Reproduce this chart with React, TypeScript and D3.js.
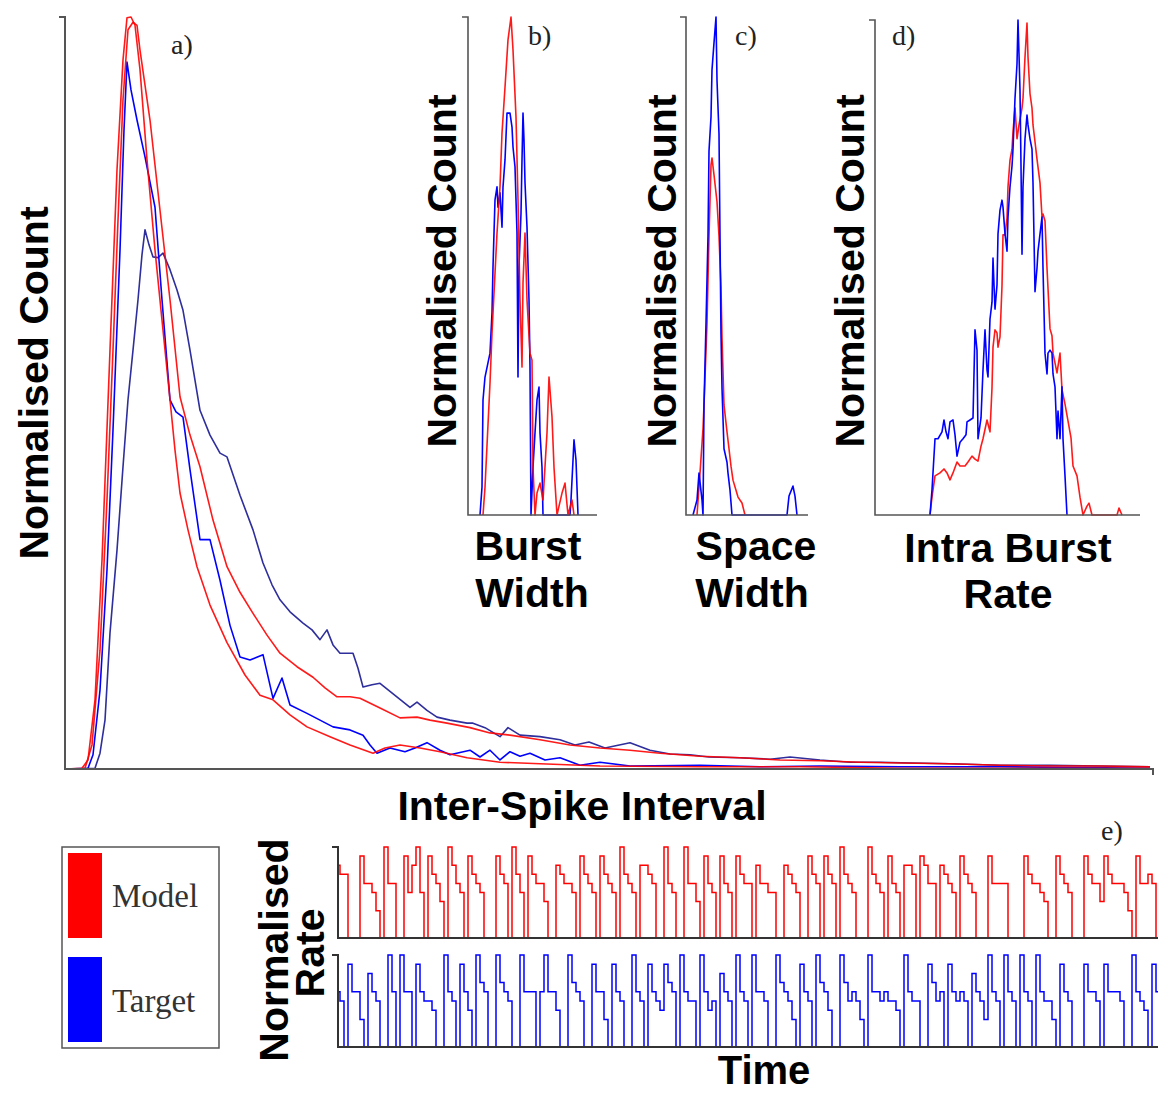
import React from "react";
import * as d3 from "d3";

const W = 1164;
const H = 1093;

// ---------- Panel a: Inter-Spike Interval histograms  [ISI bin, normalised count %] ----------
const isiModel1: [number, number][] = [
  [0, 0], [17, 0.1], [23, 1.2], [30, 9.2], [37, 27.8], [45, 55.7], [52, 79.7], [58, 94.3], [62, 99.9], [66, 100],
  [70, 98.9], [75, 93.0], [82, 81.0], [90, 69.0], [97, 59.7], [105, 49.1], [110, 42.4], [115, 36.7], [123, 31.8],
  [132, 26.9], [145, 21.8], [162, 16.8], [180, 12.5], [195, 9.8], [208, 9.2], [225, 7.2], [242, 5.6], [265, 4.3],
  [285, 3.2], [308, 2.1], [320, 2.8], [335, 3.2], [355, 2.8], [375, 2.3], [402, 1.5], [435, 0.9], [475, 0.7],
  [535, 0.4], [635, 0.3], [735, 0.3], [835, 0.1], [935, 0.1], [1085, 0.1],
];
const isiTarget1: [number, number][] = [
  [0, 0], [23, 0.1], [28, 1.9], [35, 10.5], [42, 26.5], [48, 45.1], [55, 69.0], [59, 85.0], [62, 94.0], [66, 90.3],
  [72, 86.3], [80, 81.4], [90, 74.7], [97, 62.4], [105, 49.1], [111, 47.5], [118, 46.8], [125, 39.8], [135, 30.5],
  [145, 30.5], [155, 25.1], [165, 19.1], [175, 14.9], [185, 14.5], [198, 15.2], [208, 9.4], [217, 12.1], [225, 8.5],
  [242, 7.4], [255, 6.5], [268, 5.6], [285, 5.2], [298, 4.5], [305, 3.2], [312, 2.1], [325, 2.8], [340, 2.3],
  [350, 2.8], [362, 3.5], [375, 2.5], [385, 1.9], [405, 2.5], [415, 1.6], [425, 2.5], [435, 1.2], [445, 2.3],
  [455, 1.7], [465, 2.1], [480, 1.2], [495, 1.5], [515, 0.5], [535, 0.9], [565, 0.4], [635, 0.5], [695, 0.3],
  [755, 0.4], [835, 0.3], [935, 0.3], [1085, 0.1],
];
const isiModel2: [number, number][] = [
  [20, 0.1], [27, 3.2], [35, 15.8], [42, 35.8], [48, 55.7], [53, 73.0], [58, 89.0], [63, 98.3], [68, 99.3],
  [72, 98.9], [75, 95.6], [85, 86.3], [95, 74.3], [105, 62.4], [115, 49.5], [125, 44.4], [135, 40.2], [148, 33.1],
  [162, 26.9], [175, 23.5], [188, 20.7], [202, 17.8], [215, 15.4], [232, 13.6], [248, 12.2], [260, 10.8],
  [272, 9.6], [285, 9.6], [295, 9.4], [315, 8.1], [335, 6.8], [352, 6.9], [365, 6.5], [382, 6.1], [405, 5.5],
  [425, 4.8], [445, 4.5], [475, 3.9], [505, 3.2], [535, 2.8], [565, 2.5], [595, 2.1], [635, 1.7], [675, 1.5],
  [715, 1.2], [755, 1.1], [795, 0.9], [835, 0.8], [885, 0.7], [935, 0.5], [985, 0.4], [1035, 0.4], [1085, 0.3],
];
const isiTarget2: [number, number][] = [
  [0, 0], [30, 0.1], [35, 2.1], [40, 6.5], [45, 18.1], [52, 29.1], [58, 40.2], [63, 49.1], [68, 55.7], [73, 62.4],
  [77, 68.4], [80, 71.7], [84, 69.7], [88, 68.1], [93, 68.0], [98, 68.6], [105, 66.4], [112, 63.7], [118, 61.0],
  [125, 55.7], [135, 47.7], [145, 44.4], [155, 42.0], [162, 41.5], [175, 36.4], [188, 31.8], [198, 27.4],
  [207, 24.5], [215, 22.5], [225, 20.9], [238, 19.4], [247, 18.5], [255, 17.2], [262, 18.5], [268, 16.5],
  [275, 15.4], [288, 15.4], [293, 13.4], [298, 10.9], [307, 11.2], [315, 11.4], [330, 9.8], [345, 8.2],
  [352, 8.9], [362, 7.8], [372, 6.9], [385, 6.5], [402, 6.1], [408, 6.1], [420, 5.5], [435, 4.3], [443, 5.5],
  [455, 4.5], [475, 4.3], [495, 3.9], [510, 3.2], [524, 3.6], [540, 2.8], [565, 3.5], [585, 2.5], [605, 2.0],
  [625, 1.9], [644, 1.6], [675, 1.5], [705, 1.3], [725, 1.6], [755, 1.2], [785, 0.9], [815, 0.9], [847, 0.8],
  [885, 0.7], [935, 0.5], [985, 0.5], [1035, 0.4], [1085, 0.3],
];

// ---------- Panel b: Burst Width ----------
const burstModel: [number, number][] = [
  [15, 0], [17, 5.6], [22, 26.5], [24, 36.5], [29, 56.6], [32, 65.9], [34, 76.7], [37, 85.9], [40, 95.4], [43, 100],
  [45, 93.4], [48, 79.9], [50, 63.3], [52, 43.2], [54, 29.7], [55, 46.6], [57, 56.6], [59, 43.2], [62, 32.5],
  [64, 31.1], [65, 9.6], [67, 0], [69, 4.4], [72, 6.4], [75, 3.0], [79, 16.5], [81, 27.7], [84, 19.7], [86, 9.6],
  [89, 0], [94, 4.4], [97, 6.4], [100, 0], [104, 3.0], [106, 0],
];
const burstTarget: [number, number][] = [
  [12, 0], [14, 5.6], [15, 23.1], [17, 27.7], [22, 32.5], [24, 40.6], [25, 49.8], [27, 63.3], [29, 65.9],
  [30, 61.8], [32, 64.7], [34, 57.8], [35, 65.9], [37, 71.3], [39, 80.7], [42, 80.7], [44, 77.9], [45, 73.9],
  [47, 69.9], [49, 56.6], [50, 27.7], [51, 49.8], [53, 60.6], [54, 71.3], [55, 80.7], [56, 75.3], [57, 66.7],
  [59, 57.8], [61, 43.2], [62, 29.7], [63, 0], [65, 9.6], [67, 16.5], [69, 23.1], [71, 25.7], [72, 16.5],
  [74, 9.6], [75, 0], [102, 0], [103, 3.0], [105, 11.0], [106, 15.1], [108, 11.0], [110, 0],
];

// ---------- Panel c: Space Width ----------
const spaceModel: [number, number][] = [
  [11, 0], [14, 8.4], [17, 17.3], [18, 22.1], [21, 38.4], [23, 56.0], [25, 70.3], [26, 71.7], [28, 68.3],
  [31, 62.9], [33, 56.0], [35, 45.8], [36, 35.7], [38, 22.1], [41, 16.7], [43, 13.3], [45, 9.8], [47, 7.0],
  [52, 3.6], [56, 2.4], [59, 0],
];
const spaceTarget: [number, number][] = [
  [7, 0], [11, 3.0], [13, 8.4], [16, 3.0], [17, 0], [18, 22.1], [20, 38.4], [22, 56.0], [23, 73.1], [25, 79.9],
  [26, 89.4], [28, 94.8], [30, 100], [31, 87.3], [33, 76.5], [34, 56.0], [35, 36.3], [36, 25.5], [38, 13.3],
  [41, 10.6], [42, 8.4], [44, 5.0], [46, 0], [101, 0], [103, 3.8], [107, 5.8], [109, 3.8], [111, 0],
];

// ---------- Panel d: Intra Burst Rate ----------
const intraModel: [number, number][] = [
  [55, 0], [57, 3.6], [60, 7.9], [65, 8.5], [69, 9.3], [72, 8.5], [75, 7.1], [78, 8.5], [82, 10.7], [85, 9.9],
  [90, 9.9], [93, 10.7], [97, 11.9], [100, 11.3], [103, 10.9], [106, 13.9], [108, 15.4], [112, 19.2], [115, 16.8],
  [117, 25.7], [118, 33.9], [120, 37.4], [122, 36.8], [123, 33.9], [125, 36.0], [127, 46.3], [128, 56.6],
  [130, 56.6], [132, 60.0], [133, 66.3], [135, 71.7], [137, 73.9], [138, 77.4], [140, 82.2], [142, 76.0],
  [144, 78.8], [147, 82.2], [148, 84.2], [150, 92.5], [152, 99.4], [153, 92.5], [155, 85.1], [157, 82.2],
  [158, 78.8], [160, 75.4], [162, 71.9], [165, 67.1], [167, 60.2], [168, 60.8], [170, 59.4], [172, 49.9],
  [175, 37.6], [177, 36.2], [178, 32.7], [182, 28.7], [185, 32.7], [187, 25.3], [190, 22.4], [193, 19.0],
  [196, 15.6], [198, 9.9], [202, 7.9], [205, 3.6], [208, 0], [212, 1.8], [214, 2.4], [217, 0], [242, 0],
  [244, 1.4], [247, 0],
];
const intraTarget: [number, number][] = [
  [55, 0], [57, 5.1], [60, 15.4], [63, 15.4], [67, 16.8], [69, 19.2], [71, 16.8], [73, 15.4], [75, 18.8],
  [78, 19.2], [80, 16.2], [82, 11.9], [85, 14.7], [88, 15.4], [91, 16.2], [92, 18.8], [95, 19.2], [98, 19.6],
  [100, 37.4], [102, 33.3], [103, 15.4], [106, 19.6], [108, 29.3], [110, 37.4], [112, 29.3], [113, 27.9],
  [115, 39.6], [117, 43.0], [118, 51.9], [119, 46.5], [120, 41.6], [122, 46.5], [123, 56.8], [125, 61.6],
  [127, 63.6], [128, 62.2], [130, 56.8], [132, 53.3], [133, 60.2], [135, 66.3], [137, 70.5], [138, 73.9],
  [140, 84.2], [142, 91.1], [143, 100], [144, 93.1], [145, 85.7], [146, 70.5], [147, 52.7], [148, 66.3],
  [150, 76.0], [152, 80.8], [153, 78.8], [155, 76.0], [157, 73.9], [158, 67.1], [160, 45.1], [162, 49.9],
  [163, 53.3], [165, 56.8], [167, 60.2], [168, 49.9], [170, 32.7], [172, 28.5], [173, 32.7], [175, 33.3],
  [177, 32.7], [178, 28.5], [180, 25.9], [182, 15.4], [183, 21.0], [185, 15.4], [187, 25.9], [188, 15.4],
  [190, 7.9], [192, 0],
];

// ---------- Panel e: normalised rate over time (one value per time step) ----------
const modelRate: number[] = [
  8, 7, 7, 0, 0, 0, 9, 6, 6, 5, 3, 0, 10, 6, 6, 0, 0, 9, 5, 8, 10, 5, 0, 9, 7, 6, 4, 0, 10, 8, 6, 5, 0,
  9, 7, 6, 5, 0, 0, 0, 9, 7, 6, 0, 10, 7, 5, 0, 9, 7, 6, 6, 4, 0, 0, 8, 7, 6, 6, 5, 0, 9, 7, 6, 5, 0,
  9, 7, 6, 5, 0, 10, 7, 6, 5, 0, 8, 8, 7, 6, 0, 0, 10, 6, 5, 0, 0, 10, 6, 6, 4, 0, 9, 6, 5, 0, 9, 6, 5, 0,
  9, 7, 6, 6, 0, 8, 6, 6, 5, 5, 0, 0, 8, 7, 6, 5, 0, 0, 9, 7, 6, 0, 9, 7, 6, 0, 10, 7, 6, 5, 0, 0, 0,
  10, 7, 6, 5, 0, 9, 6, 5, 0, 8, 8, 7, 0, 9, 8, 6, 6, 0, 8, 7, 6, 5, 0, 9, 7, 6, 5, 0, 0, 0,
  9, 6, 6, 6, 6, 0, 0, 0, 0, 9, 7, 6, 6, 5, 4, 0, 0, 9, 7, 6, 5, 0, 0, 0, 9, 7, 6, 6, 4,
  9, 7, 6, 6, 6, 5, 3, 0, 9, 6, 6, 7, 6, 0,
];
const targetRate: number[] = [
  6, 5, 0, 9, 6, 6, 3, 0, 8, 6, 5, 0, 0, 10, 6, 0, 10, 6, 6, 0, 9, 6, 5, 5, 4, 0, 0, 10, 6, 5, 0,
  9, 6, 4, 0, 10, 7, 6, 0, 0, 10, 7, 6, 5, 0, 0, 10, 6, 6, 6, 0, 6, 10, 6, 6, 4, 0, 0, 10, 7, 6, 5, 0, 0,
  9, 6, 6, 3, 0, 9, 6, 5, 0, 0, 10, 6, 5, 0, 9, 6, 5, 4, 9, 7, 6, 0, 10, 6, 5, 5, 0, 10, 6, 4, 5, 0,
  8, 6, 5, 0, 10, 6, 5, 0, 10, 6, 6, 5, 0, 0, 10, 7, 6, 5, 3, 0, 9, 6, 5, 0, 10, 7, 6, 4, 0, 0,
  10, 7, 5, 6, 5, 3, 0, 10, 6, 6, 5, 6, 5, 5, 4, 0, 10, 6, 5, 5, 0, 0, 9, 7, 5, 6, 0, 9, 6, 5, 6, 5, 0,
  8, 6, 5, 3, 10, 6, 5, 0, 10, 6, 5, 0, 10, 6, 5, 0, 10, 6, 5, 5, 3, 0, 9, 6, 5, 0, 0, 0,
  9, 6, 6, 5, 0, 9, 6, 6, 6, 5, 0, 0, 10, 6, 5, 4, 0, 9, 6,
];

const legendLabels = ["Model", "Target"];

const RED = "#ff0000";
const BLUE = "#0000ff";
const NAVY = "#2e2e9c";
const AXIS = "#555555";
const SANS = "'Liberation Sans', Arial, sans-serif";
const SERIF = "'Liberation Serif', 'Times New Roman', serif";

type Pt = [number, number];

export default function App() {
  // scales
  const xA = d3.scaleLinear().domain([0, 1088]).range([65, 1153]);
  const yA = d3.scaleLinear().domain([0, 100]).range([769, 17]);
  const xB = d3.scaleLinear().domain([0, 129]).range([468, 597]);
  const yB = d3.scaleLinear().domain([0, 100]).range([515, 17]);
  const xC = d3.scaleLinear().domain([0, 122]).range([686, 808]);
  const yC = d3.scaleLinear().domain([0, 100]).range([515, 17]);
  const xD = d3.scaleLinear().domain([0, 265]).range([875, 1140]);
  const yD = d3.scaleLinear().domain([0, 100]).range([515, 20]);
  const xE = d3.scaleLinear().domain([0, modelRate.length - 1]).range([338, 1158]);
  const yE1 = d3.scaleLinear().domain([0, 10]).range([938, 847]);
  const yE2 = d3.scaleLinear().domain([0, 10]).range([1047, 955]);

  const mk = (xs: d3.ScaleLinear<number, number>, ys: d3.ScaleLinear<number, number>) =>
    d3.line<Pt>().x((d) => xs(d[0])).y((d) => ys(d[1]));
  const rate = (ys: d3.ScaleLinear<number, number>) =>
    d3
      .line<number>()
      .x((_, i) => xE(i))
      .y((d) => ys(d))
      .curve(d3.curveStep);

  const lA = mk(xA, yA);
  const lB = mk(xB, yB);
  const lC = mk(xC, yC);
  const lD = mk(xD, yD);

  const axisPath = (
    xs: d3.ScaleLinear<number, number>,
    ys: d3.ScaleLinear<number, number>,
    endTick: boolean
  ) => {
    const [x0, x1] = xs.range();
    const [yb, yt] = ys.range();
    return `M${x0 - 6},${yt}H${x0}V${yb}H${x1}` + (endTick ? `V${yb + 6}` : "");
  };

  const lineProps = { fill: "none", strokeWidth: 1.6, strokeLinejoin: "round" as const };

  const rotLabel = (x: number, y: number, text: string, size = 41) => (
    <text
      transform={`translate(${x},${y}) rotate(-90)`}
      textAnchor="middle"
      fontFamily={SANS}
      fontWeight="bold"
      fontSize={size}
      fill="#000"
    >
      {text}
    </text>
  );
  const label = (x: number, y: number, text: string, size = 41) => (
    <text x={x} y={y} textAnchor="middle" fontFamily={SANS} fontWeight="bold" fontSize={size} fill="#000">
      {text}
    </text>
  );
  const panelTag = (x: number, y: number, t: string) => (
    <text x={x} y={y} fontFamily={SERIF} fontSize={28} fill="#222">
      {t}
    </text>
  );

  return (
    <svg
      width={W}
      height={H}
      viewBox={`0 0 ${W} ${H}`}
      style={{ position: "absolute", left: 0, top: 0, background: "#fff" }}
    >
      <rect x={0} y={0} width={W} height={H} fill="#fff" />

      {/* Panel a */}
      <path d={lA(isiTarget2) ?? ""} stroke={NAVY} {...lineProps} />
      <path d={lA(isiTarget1) ?? ""} stroke={BLUE} {...lineProps} />
      <path d={lA(isiModel2) ?? ""} stroke={RED} strokeOpacity={0.9} {...lineProps} />
      <path d={lA(isiModel1) ?? ""} stroke={RED} strokeOpacity={0.9} {...lineProps} />
      <path d={axisPath(xA, yA, true)} fill="none" stroke={AXIS} strokeWidth={2} />
      {panelTag(171, 54, "a)")}
      {rotLabel(48, 383, "Normalised Count")}
      {label(582, 820, "Inter-Spike Interval")}

      {/* Panel b */}
      <path d={lB(burstTarget) ?? ""} stroke={BLUE} {...lineProps} />
      <path d={lB(burstModel) ?? ""} stroke={RED} strokeOpacity={0.9} {...lineProps} />
      <path d={axisPath(xB, yB, false)} fill="none" stroke={AXIS} strokeWidth={1.6} />
      {panelTag(528, 45, "b)")}
      {rotLabel(456, 271, "Normalised Count")}
      {label(528, 560, "Burst")}
      {label(532, 607, "Width")}

      {/* Panel c */}
      <path d={lC(spaceModel) ?? ""} stroke={RED} strokeOpacity={0.9} {...lineProps} />
      <path d={lC(spaceTarget) ?? ""} stroke={BLUE} {...lineProps} />
      <path d={axisPath(xC, yC, false)} fill="none" stroke={AXIS} strokeWidth={1.6} />
      {panelTag(735, 45, "c)")}
      {rotLabel(676, 271, "Normalised Count")}
      {label(756, 560, "Space")}
      {label(752, 607, "Width")}

      {/* Panel d */}
      <path d={lD(intraModel) ?? ""} stroke={RED} strokeOpacity={0.9} {...lineProps} />
      <path d={lD(intraTarget) ?? ""} stroke={BLUE} {...lineProps} />
      <path d={axisPath(xD, yD, false)} fill="none" stroke={AXIS} strokeWidth={1.6} />
      {panelTag(892, 45, "d)")}
      {rotLabel(864, 271, "Normalised Count")}
      {label(1008, 562, "Intra Burst")}
      {label(1008, 608, "Rate")}

      {/* Legend */}
      <rect x={62} y={847} width={157} height={201} fill="#fff" stroke={AXIS} strokeWidth={1.5} />
      {legendLabels.map((name, i) => (
        <g key={name}>
          <rect x={68} y={853 + i * 104} width={34} height={85} fill={i === 0 ? RED : BLUE} />
          <text x={112} y={907 + i * 105} fontFamily={SERIF} fontSize={33} fill="#333">
            {name}
          </text>
        </g>
      ))}

      {/* Panel e */}
      <path d={rate(yE1)(modelRate) ?? ""} stroke={RED} fill="none" strokeWidth={1.5} />
      <path d={rate(yE2)(targetRate) ?? ""} stroke={BLUE} fill="none" strokeWidth={1.5} />
      <path d={axisPath(xE, yE1, false)} fill="none" stroke="#333" strokeWidth={2} />
      <path d={axisPath(xE, yE2, false)} fill="none" stroke="#333" strokeWidth={2} />
      {panelTag(1101, 840, "e)")}
      {rotLabel(288, 950, "Normalised")}
      {rotLabel(324, 953, "Rate")}
      {label(764, 1084, "Time", 40)}
    </svg>
  );
}
